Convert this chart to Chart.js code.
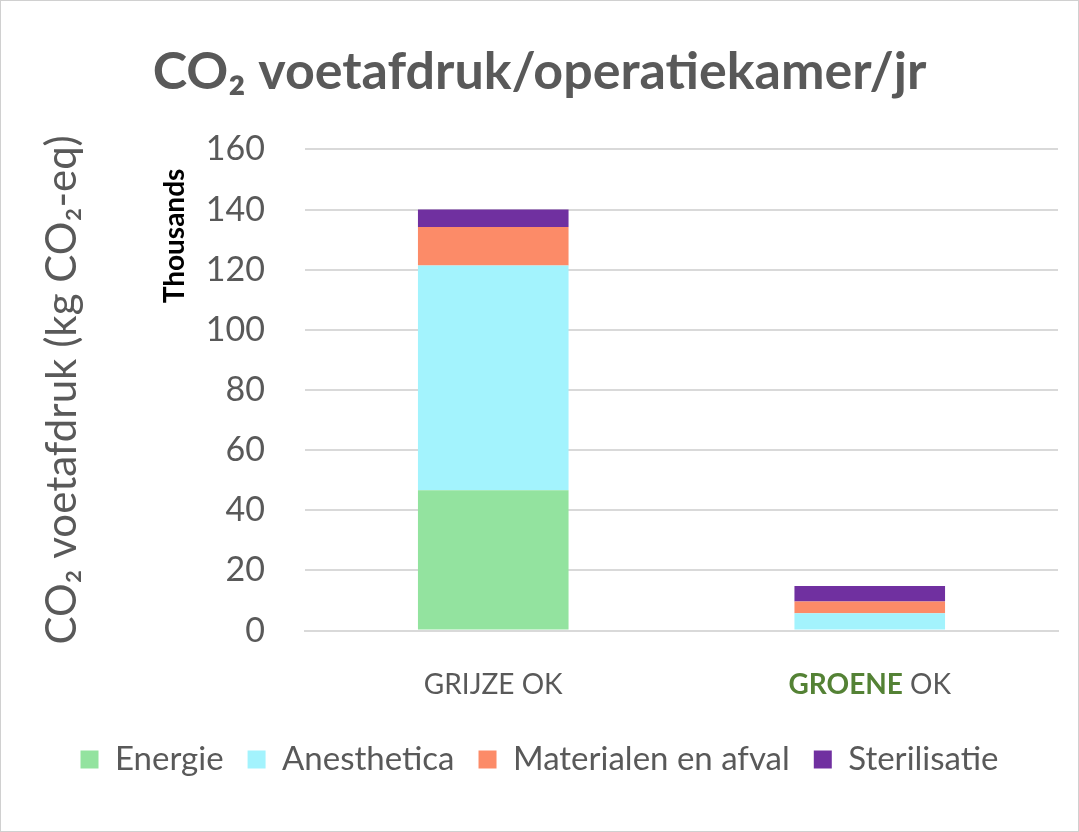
<!DOCTYPE html>
<html lang="nl">
<head>
  <meta charset="UTF-8" />
  <title>CO2 voetafdruk/operatiekamer/jr</title>
  <script src="https://cdn.jsdelivr.net/npm/chart.js"></script>
  <style>
    body { margin: 0; background: #fff; }
    #wrap { position: relative; width: 1079px; height: 832px; box-sizing: border-box; border: 1px solid #d0d0d0; }
  </style>
</head>
<body>
  <div id="wrap"><canvas id="co2Chart" width="1077" height="830"></canvas></div>
  <script>
    // waarden in kg CO2-eq
    const categories = ["GRIJZE OK", "GROENE OK"];
    const energie = [46700, 0];
    const anesthetica = [74700, 5800];
    const materialen = [12800, 3900];
    const sterilisatie = [5800, 5100];
    const yTicks = [0, 20, 40, 60, 80, 100, 120, 140, 160];

    const FONT = "Lato, 'Open Sans', sans-serif";
    const GREY = "#595959";

    // x-as labels: "GROENE" vet groen, "OK" grijs
    const xLabelPlugin = {
      id: "xLabels",
      afterDraw(chart) {
        const ctx = chart.ctx;
        const xs = chart.scales.x;
        const y = 684;
        ctx.save();
        ctx.textBaseline = "middle";
        categories.forEach((cat, i) => {
          const cx = xs.getPixelForValue(i);
          const parts = cat.split(" ");
          const first = parts[0], rest = " " + parts.slice(1).join(" ");
          const bold = cat.startsWith("GROENE");
          ctx.font = (bold ? "bold " : "") + "28px " + FONT;
          const w1 = ctx.measureText(first).width;
          ctx.font = "28px " + FONT;
          const w2 = ctx.measureText(rest).width;
          let x = cx - (w1 + w2) / 2;
          ctx.textAlign = "left";
          ctx.font = (bold ? "bold " : "") + "28px " + FONT;
          ctx.fillStyle = bold ? "#548235" : GREY;
          ctx.fillText(first, x, y);
          ctx.font = "28px " + FONT;
          ctx.fillStyle = GREY;
          ctx.fillText(rest, x + w1, y);
        });
        // weergave-eenheid
        ctx.translate(174, 235);
        ctx.rotate(-Math.PI / 2);
        ctx.textAlign = "center";
        ctx.font = "bold 28px " + FONT;
        ctx.fillStyle = "#000";
        ctx.fillText("Thousands", 0, 0);
        ctx.restore();
      }
    };

    const ds = (label, data, color) => ({
      label, data, backgroundColor: color, borderWidth: 0,
      barPercentage: 0.8, categoryPercentage: 0.5
    });

    new Chart(document.getElementById("co2Chart"), {
      type: "bar",
      data: {
        labels: categories,
        datasets: [
          ds("Energie", energie, "#93e39f"),
          ds("Anesthetica", anesthetica, "#a3f3fd"),
          ds("Materialen en afval", materialen, "#fc8b68"),
          ds("Sterilisatie", sterilisatie, "#7030a0")
        ]
      },
      plugins: [xLabelPlugin],
      options: {
        responsive: false,
        animation: false,
        layout: { padding: { left: 20, right: 20, top: 24, bottom: 45 } },
        plugins: {
          title: {
            display: true,
            text: "CO₂ voetafdruk/operatiekamer/jr",
            color: GREY,
            font: { family: FONT, size: 52, weight: "bold" },
            padding: { top: 16, bottom: 46 }
          },
          legend: {
            position: "bottom",
            labels: {
              color: GREY,
              font: { family: FONT, size: 33 },
              boxWidth: 18, boxHeight: 18, padding: 24
            }
          },
          tooltip: { enabled: false }
        },
        scales: {
          x: {
            stacked: true,
            grid: { display: false },
            border: { color: "#d9d9d9", width: 2 },
            ticks: { callback: () => "", padding: 33 }
          },
          y: {
            stacked: true,
            min: 0, max: 160000,
            afterBuildTicks: (s) => { s.ticks = yTicks.map(v => ({ value: v * 1000 })); },
            afterFit: (s) => { s.width = 284; },
            ticks: {
              color: GREY,
              font: { family: FONT, size: 34 },
              padding: 40,
              callback: (v) => v / 1000
            },
            grid: { color: "#d9d9d9", lineWidth: 2, drawTicks: false },
            border: { display: false },
            title: {
              display: true,
              text: "CO₂ voetafdruk (kg CO₂-eq)",
              color: GREY,
              font: { family: FONT, size: 42 },
              padding: { top: 16, bottom: 10 }
            }
          }
        }
      }
    });
  </script>
</body>
</html>
